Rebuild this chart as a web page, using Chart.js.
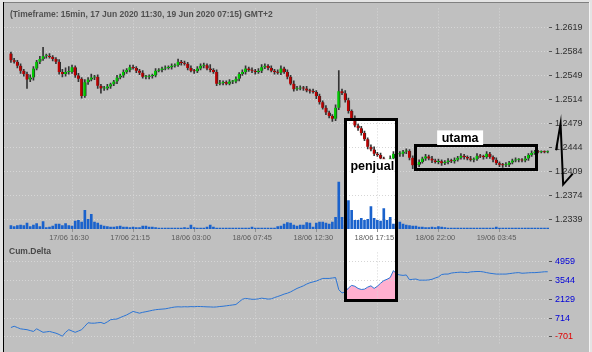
<!DOCTYPE html>
<html>
<head>
<meta charset="utf-8">
<script src="https://cdn.jsdelivr.net/npm/chart.js@4.4.0/dist/chart.umd.min.js"></script>
<style>
  html, body { margin: 0; padding: 0; background: #c0c0c0; }
  #wrap { position: relative; width: 592px; height: 352px; overflow: hidden; }
  canvas { position: absolute; left: 0; }
  #top { top: 0; }
  #bot { top: 244px; }
  .ln { position: absolute; }
</style>
</head>
<body>
<div id="wrap">
  <canvas id="top" width="592" height="244" style="width:592px;height:244px"></canvas>
  <canvas id="bot" width="592" height="108" style="width:592px;height:108px"></canvas>
  <div class="ln" style="left:0;top:0;width:592px;height:2px;background:#e4e4e4"></div>
  <div class="ln" style="left:0;top:2px;width:592px;height:1px;background:#808080"></div>
  <div class="ln" style="left:0;top:0;width:3px;height:352px;background:#e4e4e4"></div>
  <div class="ln" style="left:3px;top:2px;width:1px;height:350px;background:#000"></div>
  <div class="ln" style="left:589px;top:2px;width:1px;height:350px;background:#f4f4f4"></div>
  <div class="ln" style="left:590px;top:0;width:2px;height:352px;background:#e4e4e4"></div>
</div>
<script>
// 15 min bars, 17 Jun 2020 11:30 .. 19 Jun 2020 07:15
const tickIdx = [19, 38, 57, 76, 95, 114, 133, 152];
const tickText = ['17/06 16:30', '17/06 21:15', '18/06 03:00', '18/06 07:45',
                  '18/06 12:30', '18/06 17:15', '18/06 22:00', '19/06 03:45'];
const priceTicks = [1.2339, 1.2374, 1.2409, 1.2444, 1.2479, 1.2514, 1.2549, 1.2584, 1.2619];
const deltaTicks = [-701, 714, 2129, 3544, 4959];

const open = [
  1.2581,1.2571,1.2569,1.2563,1.2556,1.2551,1.2543,1.2546,1.2559,1.2569,
  1.2573,1.2577,1.2577,1.2576,1.2573,1.2569,1.2554,1.2551,1.2554,1.2554,
  1.2561,1.2549,1.2544,1.2519,1.2539,1.2543,1.2546,1.2547,1.2534,1.2530,
  1.2530,1.2533,1.2536,1.2540,1.2546,1.2549,1.2554,1.2557,1.2561,1.2560,
  1.2556,1.2553,1.2547,1.2547,1.2548,1.2549,1.2556,1.2557,1.2559,1.2560,
  1.2561,1.2563,1.2564,1.2569,1.2567,1.2566,1.2560,1.2556,1.2555,1.2559,
  1.2563,1.2564,1.2559,1.2557,1.2554,1.2537,1.2538,1.2539,1.2537,1.2540,
  1.2540,1.2544,1.2551,1.2554,1.2559,1.2557,1.2556,1.2554,1.2556,1.2561,
  1.2563,1.2560,1.2556,1.2554,1.2553,1.2559,1.2554,1.2547,1.2537,1.2529,
  1.2530,1.2531,1.2530,1.2527,1.2526,1.2525,1.2519,1.2510,1.2502,1.2495,
  1.2490,1.2486,1.2502,1.2526,1.2523,1.2513,1.2497,1.2487,1.2476,1.2472,
  1.2465,1.2456,1.2445,1.2441,1.2435,1.2433,1.2428,1.2421,1.2419,1.2428,
  1.2435,1.2434,1.2435,1.2438,1.2439,1.2429,1.2418,1.2419,1.2423,1.2428,
  1.2431,1.2428,1.2425,1.2423,1.2424,1.2421,1.2423,1.2425,1.2424,1.2426,
  1.2429,1.2432,1.2430,1.2428,1.2426,1.2427,1.2432,1.2431,1.2430,1.2435,
  1.2430,1.2426,1.2421,1.2419,1.2418,1.2419,1.2422,1.2425,1.2426,1.2426,
  1.2425,1.2428,1.2433,1.2436,1.2438,1.2437,1.2438,1.2437
];
const close = [
  1.2571,1.2569,1.2563,1.2556,1.2551,1.2543,1.2546,1.2559,1.2569,1.2573,
  1.2577,1.2577,1.2576,1.2573,1.2569,1.2554,1.2551,1.2554,1.2554,1.2561,
  1.2549,1.2544,1.2519,1.2539,1.2543,1.2546,1.2547,1.2534,1.2530,1.2530,
  1.2533,1.2536,1.2540,1.2546,1.2549,1.2554,1.2557,1.2561,1.2560,1.2556,
  1.2553,1.2547,1.2547,1.2548,1.2549,1.2556,1.2557,1.2559,1.2560,1.2561,
  1.2563,1.2564,1.2569,1.2567,1.2566,1.2560,1.2556,1.2555,1.2559,1.2563,
  1.2564,1.2559,1.2557,1.2554,1.2537,1.2538,1.2539,1.2537,1.2540,1.2540,
  1.2544,1.2551,1.2554,1.2559,1.2557,1.2556,1.2554,1.2556,1.2561,1.2563,
  1.2560,1.2556,1.2554,1.2553,1.2559,1.2554,1.2547,1.2537,1.2529,1.2530,
  1.2531,1.2530,1.2527,1.2526,1.2525,1.2519,1.2510,1.2502,1.2495,1.2490,
  1.2486,1.2502,1.2526,1.2523,1.2513,1.2497,1.2487,1.2476,1.2472,1.2465,
  1.2456,1.2445,1.2441,1.2435,1.2433,1.2428,1.2421,1.2419,1.2428,1.2435,
  1.2434,1.2435,1.2438,1.2439,1.2429,1.2418,1.2419,1.2423,1.2428,1.2431,
  1.2428,1.2425,1.2423,1.2424,1.2421,1.2423,1.2425,1.2424,1.2426,1.2429,
  1.2432,1.2430,1.2428,1.2426,1.2427,1.2432,1.2431,1.2430,1.2435,1.2430,
  1.2426,1.2421,1.2419,1.2418,1.2419,1.2422,1.2425,1.2426,1.2426,1.2425,
  1.2428,1.2433,1.2436,1.2438,1.2437,1.2438,1.2437,1.2438
];
// upper / lower shadow beyond the body, in pips
const wickHi = [
  2,3,2,3,2,3,4,3,2,4, 13,3,4,2,2,3,4,6,8,3, 2,3,2,4,3,5,2,3,2,3, 3,2,2,3,2,3,2,3,3,2,
  2,3,2,2,2,3,2,2,3,2, 3,2,4,2,3,2,3,2,3,3, 3,2,6,2,3,4,2,2,3,2, 3,2,3,4,2,3,2,3,4,3,
  2,3,2,3,4,2,3,2,4,3, 3,2,3,2,3,2,3,2,3,2, 2,4,30,3,4,3,2,3,2,3, 3,2,3,4,2,3,2,3,4,3,
  4,3,2,3,2,3,2,3,2,3, 2,3,2,3,2,2,3,2,3,2, 3,2,2,3,2,3,2,2,3,2, 2,3,2,2,3,2,2,3,2,2,
  3,2,3,2,2,1,1,1
];
const wickLo = [
  3,2,3,4,3,13,3,4,2,3, 2,3,2,3,3,3,4,3,3,2, 3,4,3,2,3,2,3,4,7,3, 2,3,2,3,2,3,2,3,2,3,
  3,2,3,3,3,2,2,3,2,2, 3,2,2,3,2,3,2,3,2,2, 3,2,3,2,3,2,3,2,2,3, 2,3,2,3,2,3,3,2,3,2,
  3,2,3,2,3,2,3,2,3,2, 2,3,2,3,2,4,3,2,3,3, 4,3,3,2,3,3,3,2,3,3, 2,3,2,3,2,3,4,6,3,3,
  2,3,4,3,3,5,4,3,2,3, 2,3,2,3,3,2,3,2,3,2, 2,3,2,2,3,2,2,3,2,2, 3,2,3,3,2,3,2,2,3,2,
  2,3,2,2,1,1,1,1
];
const volume = [
  35,25,35,40,35,60,25,40,55,25, 75,15,20,30,50,50,35,55,35,30,
  80,90,70,190,100,150,70,60,40,30, 25,20,20,25,30,20,20,15,20,15,
  15,30,30,20,20,15,10,10,10,10, 10,10,10,10,15,10,40,15,10,10,
  10,20,40,20,10,10,10,10,10,10, 10,10,10,10,10,20,10,10,10,10,
  10,10,10,25,30,50,65,60,40,30, 40,40,65,60,20,60,70,70,60,50,
  70,120,480,120,40,290,190,90,90,110, 90,100,230,110,90,80,210,90,120,50,
  60,70,50,40,35,30,30,20,20,15, 15,20,15,25,20,15,10,10,10,10,
  10,10,10,10,10,10,10,10,10,10, 10,20,10,10,10,10,10,10,10,10,
  10,10,10,10,10,10,10,10
];
const delta = [
  5,103,5,-93,-126,-158,-224,-289,-93,-224,
  -355,-322,-289,-355,-420,-518,-649,-355,-158,-256,
  -355,-256,-158,103,365,332,332,365,385,300,
  430,594,626,646,757,855,953,1084,1215,1149,
  1084,1149,1195,1247,1300,1346,1372,1392,1411,1457,
  1509,1548,1566,1553,1570,1561,1580,1568,1592,1583,
  1574,1561,1555,1542,1555,1587,1607,1640,1672,1705,
  1738,1934,2130,2195,2163,2130,2130,2163,2215,2182,
  2143,2163,2261,2339,2424,2522,2587,2685,2816,2947,
  3045,3143,3274,3373,3438,3503,3601,3699,3699,3699,
  3732,3765,2849,2607,2685,2979,3175,3110,2947,2868,
  2894,3045,3143,2947,3110,3339,3535,3634,3765,4287,
  4026,3961,3928,3961,3601,3634,3654,3569,3569,3569,
  3588,3634,3732,3810,3993,4026,4026,4103,4136,4155,
  4175,4155,4136,4188,4207,4220,4220,4188,4136,4090,
  4058,4026,4026,4026,4026,4058,4090,4123,4136,4090,
  4103,4123,4136,4136,4155,4175,4201,4201
];

const high = close.map((c, i) => Math.max(c, open[i]) + wickHi[i] / 10000);
const low = close.map((c, i) => Math.min(c, open[i]) - wickLo[i] / 10000);

// axis ranges
const X_MIN = -2.156, X_MAX = 167.4;
const P_MIN = 1.23252, P_MAX = 1.26467;
const D_MIN = -1204, D_MAX = 5658;

// annotations (bar index / price / delta units)
const penjualBox = { x0: 103.9, x1: 119.8, top: 1.24855, bottom: 2064 };
const penjualLabel = { x0: 105.3, x1: 119.3, top: 1.2427, bottom: 1.2406, text: 'penjual' };
const utamaBox = { x0: 125.7, x1: 163.4, top: 1.24475, bottom: 1.2412 };
const utamaLabel = { x0: 132.6, x1: 146.9, top: 1.24689, bottom: 1.24476, text: 'utama' };
const zigzag = [[169.6, 1.2440], [171.0, 1.2479], [171.8, 1.2390], [174.8, 1.2406]];

const GRID = '#d6d6d6';
const FONT = '"Liberation Sans", Arial, sans-serif';
Chart.defaults.font.family = FONT;

function xAxis(withLabels) {
  return {
    type: 'linear', min: X_MIN, max: X_MAX, bounds: 'data', offset: false,
    afterBuildTicks: s => { s.ticks = tickIdx.map(v => ({ value: v })); },
    afterFit: s => { s.height = withLabels ? 15 : 2; },
    grid: { offset: false, color: GRID, drawTicks: withLabels, tickLength: 3, tickColor: '#909090', tickBorderDash: [] },
    border: { display: false, dash: [1, 2] },
    ticks: {
      display: withLabels, autoSkip: false, maxRotation: 0, padding: 1, labelOffset: -3,
      color: '#5c5c5c', font: { size: 7.5 },
      callback: v => tickText[tickIdx.indexOf(v)]
    }
  };
}

function px(chart, xv, yv, yId) {
  return [chart.scales.x.getPixelForValue(xv), chart.scales[yId].getPixelForValue(yv)];
}

function whiteLabel(ctx, chart, lab, align) {
  const [a, t] = px(chart, lab.x0, lab.top, 'y');
  const [b, bt] = px(chart, lab.x1, lab.bottom, 'y');
  ctx.fillStyle = '#fff';
  ctx.fillRect(a, t, b - a, bt - t);
  ctx.fillStyle = '#000';
  ctx.font = 'bold 12.5px ' + FONT;
  ctx.textBaseline = 'middle';
  ctx.textAlign = align;
  ctx.fillText(lab.text, align === 'left' ? a + 1 : (a + b) / 2, (t + bt) / 2 + 0.5);
}

const topPlugin = {
  id: 'topNotes',
  beforeDraw(chart) {
    const ctx = chart.ctx;
    const [a, t] = px(chart, penjualBox.x0, penjualBox.top, 'y');
    const b = chart.scales.x.getPixelForValue(penjualBox.x1);
    ctx.save();
    ctx.fillStyle = '#fff';
    ctx.fillRect(a, t, b - a, chart.height - t);
    ctx.restore();
  },
  afterDraw(chart) {
    const ctx = chart.ctx;
    ctx.save();
    // title
    ctx.fillStyle = '#505050';
    ctx.font = 'bold 8.5px ' + FONT;
    ctx.textBaseline = 'middle';
    ctx.fillText('(Timeframe: 15min, 17 Jun 2020 11:30, 19 Jun 2020 07:15) GMT+2', 10, 15);

    ctx.strokeStyle = '#000';
    ctx.lineWidth = 3;
    // penjual box (upper part)
    let [a, t] = px(chart, penjualBox.x0, penjualBox.top, 'y');
    let b = chart.scales.x.getPixelForValue(penjualBox.x1);
    a = Math.round(a) + 0.5; b = Math.round(b) + 0.5; t = Math.round(t) + 0.5;
    ctx.beginPath();
    ctx.moveTo(a, chart.height); ctx.lineTo(a, t); ctx.lineTo(b, t); ctx.lineTo(b, chart.height);
    ctx.stroke();
    // utama box
    const [ua, ut] = px(chart, utamaBox.x0, utamaBox.top, 'y');
    const [ub, ubt] = px(chart, utamaBox.x1, utamaBox.bottom, 'y');
    ctx.strokeRect(Math.round(ua) + 0.5, Math.round(ut) + 0.5, Math.round(ub - ua), Math.round(ubt - ut));

    whiteLabel(ctx, chart, penjualLabel, 'left');
    whiteLabel(ctx, chart, utamaLabel, 'center');

    // hand drawn zigzag
    ctx.lineWidth = 2;
    ctx.beginPath();
    zigzag.forEach((p, i) => {
      const [x, y] = px(chart, p[0], p[1], 'y');
      if (i === 0) ctx.moveTo(x, y); else ctx.lineTo(x, y);
    });
    ctx.stroke();
    ctx.restore();
  }
};

const botPlugin = {
  id: 'botNotes',
  beforeDraw(chart) {
    const ctx = chart.ctx;
    const xs = chart.scales.x, ys = chart.scales.y;
    const a = xs.getPixelForValue(penjualBox.x0), b = xs.getPixelForValue(penjualBox.x1);
    const bot = ys.getPixelForValue(penjualBox.bottom);
    ctx.save();
    ctx.fillStyle = '#fff';
    ctx.fillRect(a, 0, b - a, bot);
    ctx.beginPath();
    ctx.rect(a, 0, b - a, bot);
    ctx.clip();
    const i0 = Math.floor(penjualBox.x0), i1 = Math.ceil(penjualBox.x1);
    ctx.beginPath();
    ctx.moveTo(xs.getPixelForValue(i0), bot);
    for (let i = i0; i <= i1; i++) ctx.lineTo(xs.getPixelForValue(i), ys.getPixelForValue(delta[i]));
    ctx.lineTo(xs.getPixelForValue(i1), bot);
    ctx.closePath();
    ctx.fillStyle = '#ffb0d0';
    ctx.fill();
    ctx.restore();
  },
  afterDraw(chart) {
    const ctx = chart.ctx;
    const xs = chart.scales.x, ys = chart.scales.y;
    ctx.save();
    ctx.fillStyle = '#484848';
    ctx.font = 'bold 8.5px ' + FONT;
    ctx.textBaseline = 'middle';
    ctx.fillText('Cum.Delta', 9, 8);
    const a = Math.round(xs.getPixelForValue(penjualBox.x0)) + 0.5;
    const b = Math.round(xs.getPixelForValue(penjualBox.x1)) + 0.5;
    const bot = Math.round(ys.getPixelForValue(penjualBox.bottom)) + 0.5;
    ctx.strokeStyle = '#000';
    ctx.lineWidth = 3;
    ctx.beginPath();
    ctx.moveTo(a, 0); ctx.lineTo(a, bot); ctx.lineTo(b, bot); ctx.lineTo(b, 0);
    ctx.stroke();
    ctx.restore();
  }
};

const idx = close.map((c, i) => i);

new Chart(document.getElementById('top'), {
  type: 'bar',
  data: {
    datasets: [
      {
        label: 'body',
        data: idx.map(i => ({ x: i, y: [open[i], close[i]] })),
        backgroundColor: idx.map(i => close[i] >= open[i] ? '#00c800' : '#bc0000'),
        borderColor: '#2a2a2a',
        borderWidth: { left: 0, right: 1, top: 0, bottom: 0 },
        borderSkipped: false,
        barThickness: 3,
        minBarLength: 1,
        grouped: false,
        yAxisID: 'y'
      },
      {
        label: 'wick',
        data: idx.map(i => ({ x: i, y: [low[i], high[i]] })),
        backgroundColor: '#343434',
        barThickness: 1,
        grouped: false,
        yAxisID: 'y'
      },
      {
        label: 'volume',
        data: idx.map(i => ({ x: i, y: volume[i] })),
        backgroundColor: '#1a62cc',
        barThickness: 2,
        grouped: false,
        yAxisID: 'yv'
      }
    ]
  },
  options: {
    responsive: false,
    animation: false,
    events: [],
    layout: { padding: { left: 4, top: 3, right: 0, bottom: 0 } },
    plugins: { legend: { display: false }, tooltip: { enabled: false } },
    scales: {
      x: xAxis(true),
      y: {
        position: 'right', min: P_MIN, max: P_MAX, bounds: 'data',
        afterBuildTicks: s => { s.ticks = priceTicks.map(v => ({ value: v })); },
        afterFit: s => { s.width = 43; },
        grid: { color: GRID, tickLength: 3, tickColor: '#555', tickBorderDash: [] },
        border: { display: false, dash: [1, 2] },
        ticks: { padding: 3, color: '#303030', font: { size: 9 }, callback: v => v.toFixed(4) }
      },
      yv: { display: false, min: 0, max: 2260 }
    }
  },
  plugins: [topPlugin]
});

new Chart(document.getElementById('bot'), {
  type: 'line',
  data: {
    datasets: [{
      label: 'Cum.Delta',
      data: idx.map(i => ({ x: i, y: delta[i] })),
      borderColor: '#2b74d4',
      borderWidth: 1,
      pointRadius: 0,
      tension: 0,
      fill: false
    }]
  },
  options: {
    responsive: false,
    animation: false,
    events: [],
    layout: { padding: { left: 4, top: 1, right: 0, bottom: 0 } },
    plugins: { legend: { display: false }, tooltip: { enabled: false } },
    scales: {
      x: xAxis(false),
      y: {
        position: 'right', min: D_MIN, max: D_MAX, bounds: 'data',
        afterBuildTicks: s => { s.ticks = deltaTicks.map(v => ({ value: v })); },
        afterFit: s => { s.width = 43; },
        grid: { color: GRID, tickLength: 3, tickColor: '#555', tickBorderDash: [] },
        border: { display: false, dash: [1, 2] },
        ticks: {
          padding: 3, font: { size: 9 },
          color: c => c.tick && c.tick.value < 0 ? '#e00000' : '#0000d8',
          callback: v => String(v)
        }
      }
    }
  },
  plugins: [botPlugin]
});
</script>
</body>
</html>
